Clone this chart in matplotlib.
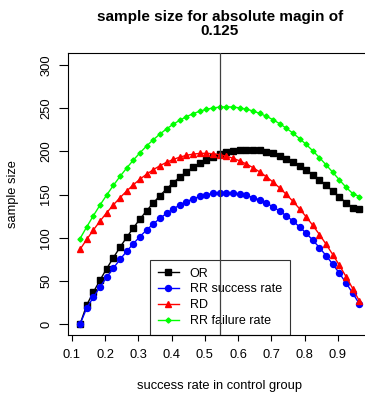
import matplotlib
matplotlib.use('Agg')
import matplotlib.pyplot as plt

plt.rcParams['font.family'] = ['Liberation Sans', 'DejaVu Sans']

# success rate in control group
rate = [0.125, 0.145, 0.165, 0.185, 0.205, 0.225, 0.245, 0.265, 0.285, 0.305,
        0.325, 0.345, 0.365, 0.385, 0.405, 0.425, 0.445, 0.465, 0.485, 0.505,
        0.525, 0.545, 0.565, 0.585, 0.605, 0.625, 0.645, 0.665, 0.685, 0.705,
        0.725, 0.745, 0.765, 0.785, 0.805, 0.825, 0.845, 0.865, 0.885, 0.905,
        0.925, 0.945, 0.965]

# sample sizes
n_or = [0, 22.2, 37.0, 51.0, 64.2, 76.9, 88.9, 100.4, 111.3, 121.6,
        131.2, 140.3, 148.7, 156.5, 163.8, 170.3, 176.3, 181.7, 186.4, 190.5,
        194.0, 196.9, 199.1, 200.8, 201.8, 202.2, 202.0, 201.1, 199.7, 197.7,
        195.0, 191.8, 188.0, 183.6, 178.6, 173.2, 167.2, 160.8, 154.1, 147.2,
        140.6, 135.0, 133.1]
n_rr_success = [0, 18.6, 31.2, 43.0, 54.2, 64.8, 74.8, 84.2, 93.1, 101.3,
                109.0, 116.0, 122.4, 128.2, 133.4, 137.9, 141.8, 145.1, 147.8, 149.9,
                151.3, 152.1, 152.3, 151.8, 150.7, 149.0, 146.6, 143.7, 140.1, 135.9,
                131.0, 125.5, 119.4, 112.6, 105.2, 97.2, 88.5, 79.2, 69.3, 58.8,
                47.6, 35.8, 23.3]
n_rd = [86.6, 98.1, 109.0, 119.3, 129.0, 138.0, 146.4, 154.1, 161.3, 167.8,
        173.6, 178.8, 183.4, 187.4, 190.7, 193.4, 195.5, 196.9, 197.7, 197.8,
        197.4, 196.2, 194.5, 192.1, 189.1, 185.5, 181.2, 176.3, 170.8, 164.6,
        157.8, 150.3, 142.3, 133.6, 124.2, 114.3, 103.7, 92.4, 80.5, 68.0,
        54.9, 41.1, 26.7]
n_rr_failure = [99.1, 112.6, 125.6, 137.9, 149.5, 160.6, 171.0, 180.7, 189.9, 198.4,
                206.3, 213.5, 220.1, 226.1, 231.5, 236.2, 240.3, 243.8, 246.6, 248.8,
                250.4, 251.4, 251.7, 251.4, 250.5, 249.0, 246.9, 244.1, 240.8, 236.8,
                232.2, 227.0, 221.3, 214.9, 208.1, 200.7, 192.8, 184.4, 175.8, 167.0,
                158.5, 151.1, 147.6]

labels = ['OR', 'RR success rate', 'RD', 'RR failure rate']
margin = 0.125
cutoff = 0.545
xticks = [0.1, 0.2, 0.3, 0.4, 0.5, 0.6, 0.7, 0.8, 0.9]
yticks = [0, 50, 100, 150, 200, 250, 300]

fig = plt.figure(figsize=(3.65, 3.94), dpi=100)
# plot box runs past the right edge of the picture, like the original
ax = fig.add_axes([68.3 / 365, 59 / 394, 302.7 / 365, 282.3 / 394])

ax.plot(rate, n_or, color='black', marker='s', markersize=4.3, lw=1.0, label=labels[0])
ax.plot(rate, n_rr_success, color='blue', marker='o', markersize=4.3, lw=1.0, label=labels[1])
ax.plot(rate, n_rd, color='red', marker='^', markersize=5.0, lw=1.0, label=labels[2])
ax.plot(rate, n_rr_failure, color='#00ff00', marker='D', markersize=2.6, lw=1.0, label=labels[3])
ax.axvline(cutoff, color='#404040', lw=0.9, zorder=5)

ax.set_xlim(0.0895, 1.0)
ax.set_ylim(-12.7, 314.4)
ax.set_xticks(xticks)
ax.set_xticklabels(['%.1f' % t for t in xticks])
ax.set_yticks(yticks)
ax.tick_params(axis='x', length=4, width=0.8, pad=6, labelsize=9.3)
ax.tick_params(axis='y', length=6.5, width=0.8, pad=5, labelsize=9.3)
plt.setp(ax.get_yticklabels(), rotation=90, va='center')
for s in ax.spines.values():
    s.set_linewidth(0.8)

ax.set_title('sample size for absolute magin of\n%s' % margin, fontsize=11,
             fontweight='bold', pad=13, linespacing=0.95)
ax.set_xlabel('success rate in control group', fontsize=9.3, labelpad=13.5)
ax.set_ylabel('sample size', fontsize=9.3, labelpad=15)

leg = ax.legend(loc='lower center', bbox_to_anchor=(0.5, 0), borderaxespad=0,
                fontsize=9, handlelength=1.7, handletextpad=0.85, labelspacing=0.3,
                borderpad=0.65, fancybox=False, framealpha=1, edgecolor='#333333')
leg.get_frame().set_linewidth(0.8)
leg.set_zorder(2)

fig.savefig('out.png', dpi=100)
